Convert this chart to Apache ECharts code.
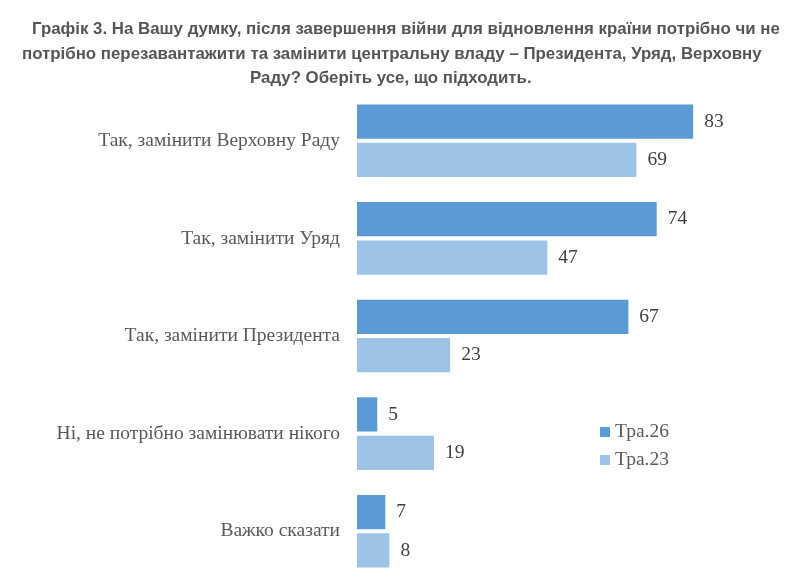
<!DOCTYPE html>
<html>
<head>
<meta charset="utf-8">
<script src="https://cdn.jsdelivr.net/npm/echarts@6/dist/echarts.min.js"></script>
<style>
html,body{margin:0;padding:0;background:#fff;}
#main{width:800px;height:580px;}
</style>
</head>
<body>
<div id="main"></div>
<script>
// дані з графіка
var categories = ["Так, замінити Верховну Раду", "Так, замінити Уряд", "Так, замінити Президента", "Ні, не потрібно замінювати нікого", "Важко сказати"];
var seriesNames = ["Тра.26", "Тра.23"];
var may26 = [83, 74, 67, 5, 7];
var may23 = [69, 47, 23, 19, 8];
var titleLines = [
	"Графік 3. На Вашу думку, після завершення війни для відновлення країни потрібно чи не",
	"потрібно перезавантажити та замінити центральну владу – Президента, Уряд, Верховну",
	"Раду? Оберіть усе, що підходить."
];

var titleLeft = [32, 22, 250];
var titleTop = [19, 44, 68];
var titles = [];
for(var i=0;i<titleLines.length;i++){
	titles.push({
		text: titleLines[i],
		left: titleLeft[i],
		top: titleTop[i],
		padding: 0,
		textStyle: {
			fontFamily: 'Liberation Sans',
			fontSize: 16.85,
			fontWeight: 'bold',
			color: '#555555',
			lineHeight: 20
		}
	});
}

var serif = 'Liberation Serif';
var myChart = echarts.init(document.getElementById('main'));
var option = {
	backgroundColor: '#fff',
	animation: false,
	title: titles,
	legend: {
		orient: 'vertical',
		left: 600,
		top: 422,
		padding: 0,
		itemWidth: 10,
		itemHeight: 10,
		itemGap: 8,
		icon: 'rect',
		data: seriesNames,
		textStyle: {fontFamily: serif, fontSize: 19.5, color: '#595959'}
	},
	grid: {
		left: 357,
		width: 405,
		top: 92,
		height: 489,
		containLabel: false
	},
	xAxis: {
		type: 'value',
		min: 0,
		max: 100,
		show: false
	},
	yAxis: {
		type: 'category',
		inverse: true,
		data: categories,
		axisLine: {show: false},
		axisTick: {show: false},
		axisLabel: {
			margin: 17,
			fontFamily: serif,
			fontSize: 19.5,
			color: '#595959'
		}
	},
	series: [
		{
			name: seriesNames[0],
			type: 'bar',
			data: may26,
			barGap: '12%',
			barCategoryGap: '25.6%',
			itemStyle: {color: '#5B9BD5'},
			label: {show: true, position: 'right', distance: 11, fontFamily: serif, fontSize: 19.5, color: '#404040'}
		},
		{
			name: seriesNames[1],
			type: 'bar',
			data: may23,
			barGap: '12%',
			barCategoryGap: '25.6%',
			itemStyle: {color: '#9DC3E6'},
			label: {show: true, position: 'right', distance: 11, fontFamily: serif, fontSize: 19.5, color: '#404040'}
		}
	]
};
myChart.setOption(option);
</script>
</body>
</html>
